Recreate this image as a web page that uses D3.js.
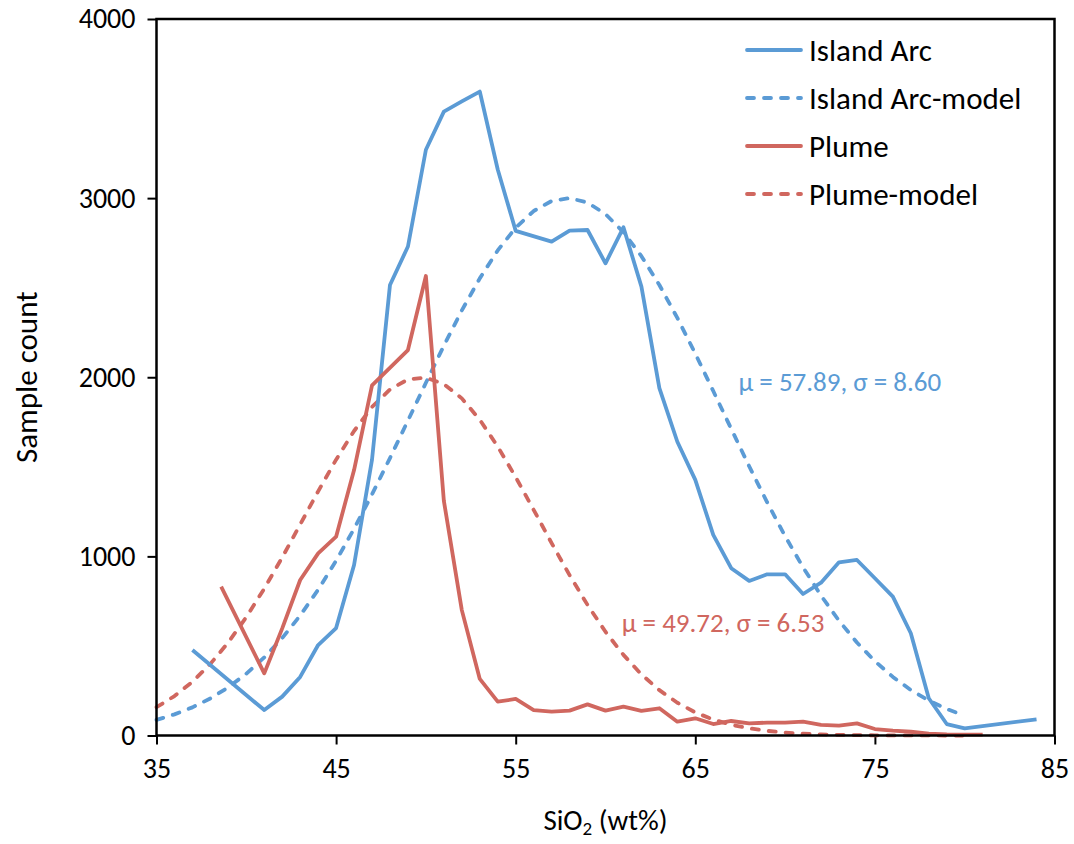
<!DOCTYPE html>
<html>
<head>
<meta charset="utf-8">
<script src="https://cdn.jsdelivr.net/npm/d3@7"></script>
<style>
  body { margin: 0; background: #fff; }
  text { font-family: Carlito, Lato, "Open Sans", sans-serif; }
</style>
</head>
<body>
<svg id="chart"></svg>
<script>
// Island Arc histogram
const arcX = [37, 41, 42, 43, 44, 45, 46, 47, 48, 49, 50, 51, 52, 53, 54, 55, 57, 58, 59, 60,
    61, 62, 63, 64, 65, 66, 67, 68, 69, 70, 71, 72, 73, 74, 75, 76, 77, 78, 79, 80, 84];
const arcY = [477, 142, 217, 327, 505, 600, 952, 1540, 2515, 2730, 3270, 3483, 3540, 3595, 3160, 2817, 2757, 2819, 2822, 2636,
    2837, 2506, 1939, 1640, 1427, 1120, 934, 863, 900, 900, 790, 853, 967, 980, 878, 775, 571, 208, 64, 40, 90];

// Plume histogram
const plumeX = [38.6, 41, 42, 43, 44, 45, 46, 47, 49, 50, 51, 52, 53, 54, 55, 56, 57, 58, 59, 60,
    61, 62, 63, 64, 65, 66, 67, 68, 69, 70, 71, 72, 73, 74, 75, 76, 77, 78, 79, 80, 81];
const plumeY = [831, 347, 598, 868, 1017, 1110, 1482, 1955, 2152, 2565, 1310, 700, 316, 189, 204, 142, 133, 139, 174, 139,
    161, 137, 152, 77, 96, 64, 81, 68, 72, 72, 77, 59, 55, 68, 36, 27, 21, 10, 6, 5, 5];

// model curves, read at each wt%
const modelX = [35, 36, 37, 38, 39, 40, 41, 42, 43, 44, 45, 46, 47, 48, 49, 50, 51, 52, 53, 54, 55, 56, 57,
    58, 59, 60, 61, 62, 63, 64, 65, 66, 67, 68, 69, 70, 71, 72, 73, 74, 75, 76, 77, 78, 79, 80];
const arcModelY = [87, 118, 157, 207, 269, 345, 436, 544, 670, 814, 976, 1154, 1346, 1549, 1758, 1969, 2176, 2373, 2552, 2708, 2835, 2928, 2984,
    3000, 2975, 2911, 2810, 2676, 2515, 2331, 2132, 1923, 1712, 1503, 1302, 1113, 939, 781, 641, 519, 415, 327, 254, 195, 148, 110];
const plumeModelY = [158, 220, 300, 400, 520, 661, 820, 994, 1178, 1363, 1540, 1700, 1834, 1932, 1988, 1998, 1962, 1882, 1763, 1613, 1442, 1260, 1074,
    895, 729, 579, 450, 341, 253, 183, 129, 89, 60, 40, 26, 16, 10, 6, 3.5, 2, 1.1, 0.6, 0.3, 0.2, 0.1, 0];

const xTicks = [35, 45, 55, 65, 75, 85];
const yTicks = [0, 1000, 2000, 3000, 4000];
const legendNames = ["Island Arc", "Island Arc-model", "Plume", "Plume-model"];

const blue = "#5b9bd5", red = "#d0675f";

const margin = { top: 19, right: 19.5, bottom: 108.5, left: 156.5 },
    width = 1074 - margin.left - margin.right,
    height = 844 - margin.top - margin.bottom;

const root = d3.select("#chart")
    .attr("width", 1074)
    .attr("height", 844);

const svg = root.append("g")
    .attr("transform", "translate(" + margin.left + "," + margin.top + ")");

let x = d3.scaleLinear().domain([35, 85]).range([0, width]);
let y = d3.scaleLinear().domain([0, 4000]).range([height, 0]);

// axes
const xAxis = svg.append("g")
    .attr("transform", "translate(0," + height + ")")
    .call(d3.axisBottom(x).tickValues(xTicks).tickSizeInner(9).tickSizeOuter(0).tickPadding(14));
const yAxis = svg.append("g")
    .call(d3.axisLeft(y).tickValues(yTicks).tickFormat(d3.format("d")).tickSizeInner(9).tickSizeOuter(0).tickPadding(12));

[xAxis, yAxis].forEach(a => {
    a.select(".domain").remove();
    a.selectAll("line").attr("stroke", "#000").attr("stroke-width", 2);
    a.selectAll("text").attr("font-size", "28px").attr("fill", "#000")
        .style("font-family", "Carlito, Lato, sans-serif");
});

const line = d3.line().x(d => x(d[0])).y(d => y(d[1]));
const zip = (xs, ys) => xs.map((v, i) => [v, ys[i]]);

const series = [
    { name: legendNames[1], pts: zip(modelX, arcModelY), color: blue, dash: true },
    { name: legendNames[3], pts: zip(modelX, plumeModelY), color: red, dash: true },
    { name: legendNames[0], pts: zip(arcX, arcY), color: blue, dash: false },
    { name: legendNames[2], pts: zip(plumeX, plumeY), color: red, dash: false }
];

svg.selectAll("path.series")
    .data(series)
    .enter()
    .append("path")
    .attr("class", "series")
    .attr("d", d => line(d.pts))
    .attr("fill", "none")
    .attr("stroke", d => d.color)
    .attr("stroke-width", 3.8)
    .attr("stroke-linejoin", "round")
    .attr("stroke-linecap", d => d.dash ? "round" : "butt")
    .attr("stroke-dasharray", d => d.dash ? "7,10" : null);

// plot frame
svg.append("rect")
    .attr("width", width)
    .attr("height", height)
    .attr("fill", "none")
    .attr("stroke", "#000")
    .attr("stroke-width", 2.5);

// fit annotations
svg.append("text")
    .attr("x", x(67.4))
    .attr("y", y(1925))
    .attr("fill", blue)
    .attr("font-size", "27px")
    .text("\u03bc = 57.89, \u03c3 = 8.60");

svg.append("text")
    .attr("x", x(60.9))
    .attr("y", y(580))
    .attr("fill", red)
    .attr("font-size", "27px")
    .text("\u03bc = 49.72, \u03c3 = 6.53");

// legend
const legendItems = [
    { name: legendNames[0], color: blue, dash: false },
    { name: legendNames[1], color: blue, dash: true },
    { name: legendNames[2], color: red, dash: false },
    { name: legendNames[3], color: red, dash: true }
];
const legend = root.append("g").attr("transform", "translate(745,50)");
const li = legend.selectAll("g")
    .data(legendItems)
    .enter()
    .append("g")
    .attr("transform", (d, i) => "translate(0," + (i * 48) + ")");
li.append("line")
    .attr("x1", 2).attr("x2", 56)
    .attr("stroke", d => d.color)
    .attr("stroke-width", 3.8)
    .attr("stroke-linecap", "round")
    .attr("stroke-dasharray", d => d.dash ? "7,10" : null);
li.append("text")
    .attr("x", 64)
    .attr("dy", "0.35em")
    .attr("font-size", "31px")
    .text(d => d.name);

// axis titles
const xl = root.append("text")
    .attr("x", margin.left + width / 2)
    .attr("y", 830)
    .attr("text-anchor", "middle")
    .attr("font-size", "29px");
xl.append("tspan").text("SiO");
xl.append("tspan").attr("font-size", "19px").attr("dy", 5).text("2");
xl.append("tspan").attr("dy", -5).text(" (wt%)");

root.append("text")
    .attr("transform", "translate(26," + (margin.top + height / 2) + ") rotate(-90)")
    .attr("text-anchor", "middle")
    .attr("dy", "0.35em")
    .attr("font-size", "31px")
    .text("Sample count");
</script>
</body>
</html>
